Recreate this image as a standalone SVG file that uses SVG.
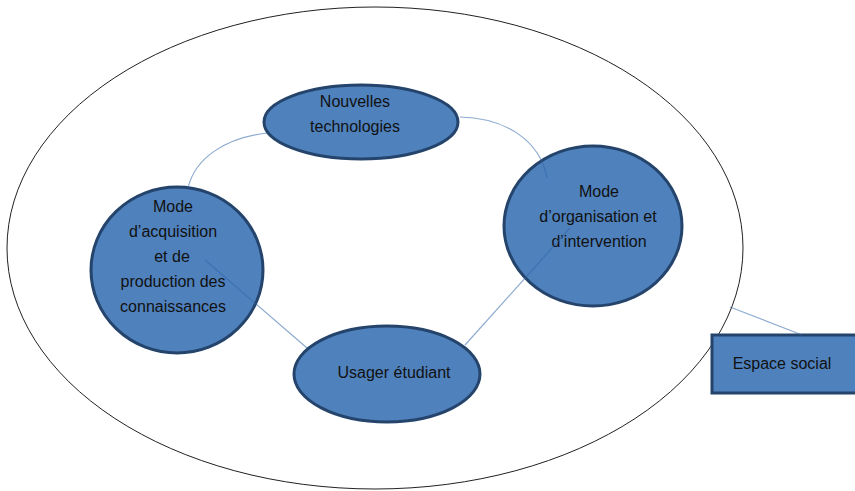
<svg xmlns="http://www.w3.org/2000/svg" width="855" height="491" viewBox="0 0 855 491">
<style>
.node{fill:#4f81bd;stroke:#24446c;stroke-width:3}
.lbl{font-family:"Liberation Sans",Arial,sans-serif;font-size:16px;fill:#111;text-anchor:middle}
.conn{fill:none;stroke:#2f64a8;stroke-opacity:0.55;stroke-width:1.2}
</style>
<rect width="855" height="491" fill="#fff"/>
<g id="espace-social-boundary">
<ellipse cx="375" cy="248" rx="368" ry="241" fill="none" stroke="#222" stroke-width="1"/>
</g>
<g id="nouvelles-technologies">
<ellipse class="node" cx="361" cy="122" rx="97" ry="37"/>
<text class="lbl" x="355" y="107">Nouvelles</text>
<text class="lbl" x="355" y="132">technologies</text>
</g>
<g id="mode-acquisition">
<ellipse class="node" cx="177" cy="270" rx="86" ry="83"/>
<text class="lbl" x="173" y="212">Mode</text>
<text class="lbl" x="173" y="237">d’acquisition</text>
<text class="lbl" x="172" y="262">et de</text>
<text class="lbl" x="173" y="287">production des</text>
<text class="lbl" x="173" y="312">connaissances</text>
</g>
<g id="mode-organisation">
<ellipse class="node" cx="593" cy="226" rx="89" ry="80"/>
<text class="lbl" x="599" y="197">Mode</text>
<text class="lbl" x="598" y="222">d’organisation et</text>
<text class="lbl" x="599" y="247">d’intervention</text>
</g>
<g id="usager-etudiant">
<ellipse class="node" cx="387" cy="374" rx="93" ry="48"/>
<text class="lbl" x="394" y="378">Usager étudiant</text>
</g>
<g id="espace-social">
<rect class="node" x="712" y="335" width="150" height="58"/>
<text class="lbl" x="782" y="369">Espace social</text>
</g>
<g id="connectors">
<path class="conn" d="M267,133 C225,138 195,158 188,188"/>
<path class="conn" d="M460,117 C505,118 540,140 547,178"/>
<path class="conn" d="M205,260 L307,348"/>
<path class="conn" d="M465,345 L570,228"/>
<path class="conn" d="M730,307 L802,335"/>
</g>
</svg>
